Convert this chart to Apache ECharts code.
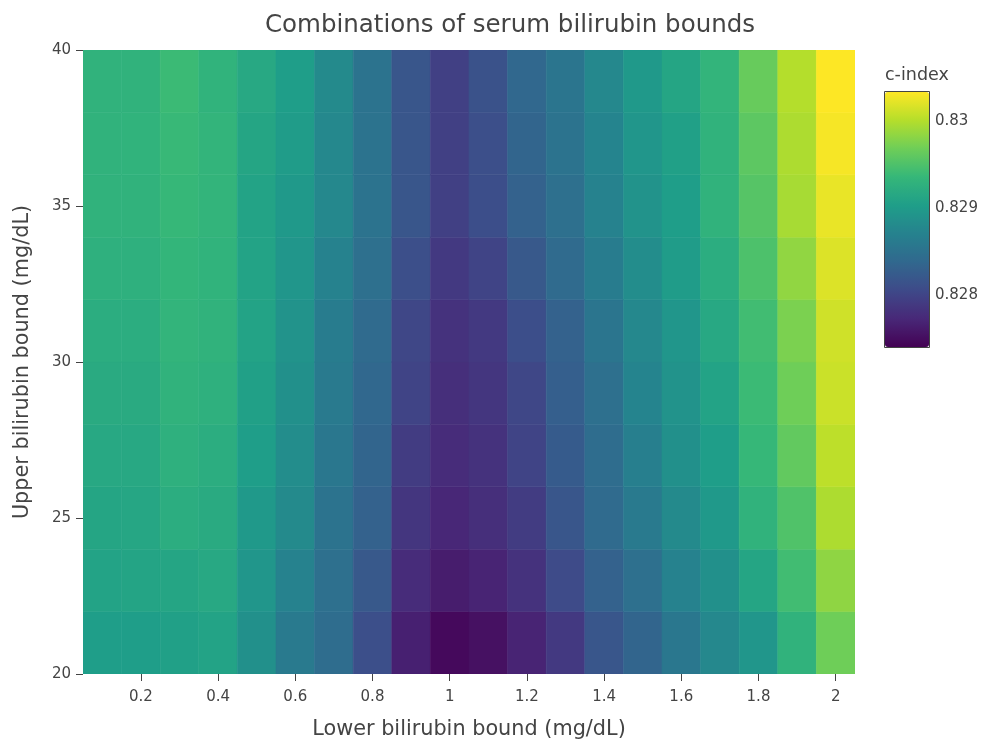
<!DOCTYPE html>
<html><head><meta charset="utf-8">
<script src="https://cdn.jsdelivr.net/npm/echarts@6/dist/echarts.min.js"></script>
<style>html,body{margin:0;padding:0;background:#fff}#c{width:988px;height:745px}</style>
</head><body><div id="c"></div>
<script>
// Lower bilirubin bound (mg/dL) — x categories
const lowerBounds = ['0.1','0.2','0.3','0.4','0.5','0.6','0.7','0.8','0.9','1.0',
                     '1.1','1.2','1.3','1.4','1.5','1.6','1.7','1.8','1.9','2.0'];
// Upper bilirubin bound: centre of each 2 mg/dL band, bottom to top
const upperBands = [21, 23, 25, 27, 29, 31, 33, 35, 37, 39];
const upperBandWidth = 2;
const yTickValues = [20, 25, 30, 35, 40];
const colorbarTicks = [0.828, 0.829, 0.83];
const cMin = 0.8274, cMax = 0.83033;
// c-index per lower bound (rows), one value per upper band (bottom -> top)
const cIndex = [
  [0.82903,0.82909,0.82912,0.82916,0.82919,0.82922,0.82926,0.82929,0.82929,0.82929], // 0.1
  [0.82903,0.82910,0.82913,0.82916,0.82919,0.82922,0.82926,0.82929,0.82930,0.82929], // 0.2
  [0.82906,0.82912,0.82922,0.82926,0.82929,0.82932,0.82933,0.82936,0.82937,0.82939], // 0.3
  [0.82909,0.82916,0.82919,0.82922,0.82926,0.82929,0.82930,0.82932,0.82932,0.82930], // 0.4
  [0.82887,0.82893,0.82897,0.82903,0.82906,0.82909,0.82909,0.82909,0.82912,0.82916], // 0.5
  [0.82860,0.82870,0.82880,0.82883,0.82887,0.82890,0.82893,0.82897,0.82900,0.82903], // 0.6
  [0.82844,0.82848,0.82851,0.82857,0.82860,0.82863,0.82870,0.82877,0.82877,0.82880], // 0.7
  [0.82811,0.82821,0.82831,0.82834,0.82838,0.82841,0.82848,0.82851,0.82851,0.82851], // 0.8
  [0.82766,0.82776,0.82786,0.82792,0.82799,0.82802,0.82811,0.82818,0.82818,0.82818], // 0.9
  [0.82747,0.82763,0.82772,0.82776,0.82779,0.82782,0.82789,0.82796,0.82796,0.82796], // 1.0
  [0.82753,0.82769,0.82779,0.82782,0.82786,0.82789,0.82799,0.82809,0.82811,0.82814], // 1.1
  [0.82769,0.82782,0.82792,0.82799,0.82802,0.82809,0.82821,0.82831,0.82834,0.82838], // 1.2
  [0.82789,0.82806,0.82818,0.82824,0.82828,0.82831,0.82841,0.82848,0.82851,0.82854], // 1.3
  [0.82818,0.82831,0.82841,0.82844,0.82848,0.82854,0.82863,0.82870,0.82873,0.82877], // 1.4
  [0.82834,0.82848,0.82860,0.82867,0.82873,0.82877,0.82883,0.82890,0.82893,0.82897], // 1.5
  [0.82857,0.82870,0.82880,0.82887,0.82890,0.82893,0.82900,0.82903,0.82906,0.82912], // 1.6
  [0.82877,0.82887,0.82897,0.82903,0.82909,0.82916,0.82922,0.82929,0.82929,0.82932], // 1.7
  [0.82893,0.82912,0.82929,0.82936,0.82939,0.82942,0.82949,0.82954,0.82958,0.82964], // 1.8
  [0.82929,0.82942,0.82951,0.82961,0.82968,0.82974,0.82984,0.82994,0.82997,0.83000], // 1.9
  [0.82968,0.82983,0.82997,0.83004,0.83010,0.83012,0.83018,0.83024,0.83030,0.83033]  // 2.0
];
const viridis = ['#440154','#482878','#3e4a89','#31688e','#26828e','#1f9e89','#35b779','#6ece58','#b5de2b','#fde725'];

const cellData = [];
cIndex.forEach((col, xi) => col.forEach((v, yi) => cellData.push([xi, upperBands[yi], v])));

const FONT = '"DejaVu Sans", Verdana, sans-serif';
const TXT = '#444';
const PLOT = {left: 83, top: 50, width: 772, height: 625};
const CB = {left: 885, top: 92, width: 44, height: 255};

const chart = echarts.init(document.getElementById('c'), null, {renderer: 'canvas'});
chart.setOption({
  animation: false,
  backgroundColor: '#fff',
  textStyle: {fontFamily: FONT, color: TXT},
  title: {
    text: 'Combinations of serum bilirubin bounds',
    left: 505, top: 8, textAlign: 'center',
    textStyle: {fontFamily: FONT, fontSize: 24.5, fontWeight: 'normal', color: TXT}
  },
  grid: [
    Object.assign({containLabel: false}, PLOT),
    Object.assign({containLabel: false}, CB)
  ],
  xAxis: [{
    type: 'category', gridIndex: 0, data: lowerBounds,
    name: 'Lower bilirubin bound (mg/dL)', nameLocation: 'middle', nameGap: 45,
    nameTextStyle: {fontSize: 20.8, color: TXT, fontFamily: FONT},
    axisLine: {show: false},
    axisTick: {show: true, alignWithLabel: true, length: 7, interval: (i) => i % 2 === 1,
               lineStyle: {color: TXT, width: 1}},
    axisLabel: {interval: (i) => i % 2 === 1, fontSize: 15, color: TXT, margin: 16,
                formatter: (v) => String(Number(v))},
    splitLine: {show: false}
  }, {
    type: 'value', gridIndex: 1, show: false, min: 0, max: 1
  }],
  yAxis: [{
    type: 'value', gridIndex: 0, min: 20, max: 40, interval: 5, position: 'left',
    name: 'Upper bilirubin bound (mg/dL)', nameLocation: 'middle', nameGap: 50,
    nameTextStyle: {fontSize: 20.8, color: TXT, fontFamily: FONT},
    axisLine: {show: false},
    axisTick: {show: true, length: 7, lineStyle: {color: TXT}},
    axisLabel: {fontSize: 15, color: TXT, margin: 12},
    splitLine: {show: false}
  }, {
    type: 'value', gridIndex: 1, min: cMin, max: cMax, position: 'right',
    axisLine: {show: false},
    axisTick: {show: true, length: 4, inside: false, customValues: colorbarTicks, lineStyle: {color: TXT}},
    axisLabel: {fontSize: 15, color: TXT, margin: 6, customValues: colorbarTicks,
                formatter: (v) => String(Number(v.toFixed(3)))},
    splitLine: {show: false}
  }],
  visualMap: {
    type: 'continuous', min: cMin, max: cMax, seriesIndex: 0, dimension: 2,
    calculable: false, hoverLink: false, realtime: false,
    orient: 'vertical', left: CB.left, top: CB.top, padding: 0,
    itemWidth: CB.width, itemHeight: CB.height,
    inRange: {color: viridis},
    textStyle: {color: 'transparent'}
  },
  graphic: [{
    type: 'rect', z: 100, silent: true,
    shape: {x: CB.left - 0.5, y: CB.top - 0.5, width: CB.width + 1, height: CB.height + 1},
    style: {fill: 'none', stroke: '#444', lineWidth: 1}
  }, {
    type: 'text', left: CB.left, top: 66, silent: true,
    style: {text: 'c-index', fontSize: 17.5, fill: TXT, fontFamily: FONT}
  }],
  series: [{
    type: 'custom', xAxisIndex: 0, yAxisIndex: 0, data: cellData,
    encode: {x: 0, y: 1},
    clip: true, silent: true,
    renderItem: function (params, api) {
      const c = api.coord([api.value(0), api.value(1)]);
      const s = api.size([1, upperBandWidth]);
      const color = api.visual('color');
      return {
        type: 'rect',
        shape: {x: c[0] - s[0] / 2, y: c[1] - s[1] / 2, width: s[0], height: s[1]},
        style: {fill: color, stroke: color, lineWidth: 0.6}
      };
    }
  }]
});
</script>
</body></html>
